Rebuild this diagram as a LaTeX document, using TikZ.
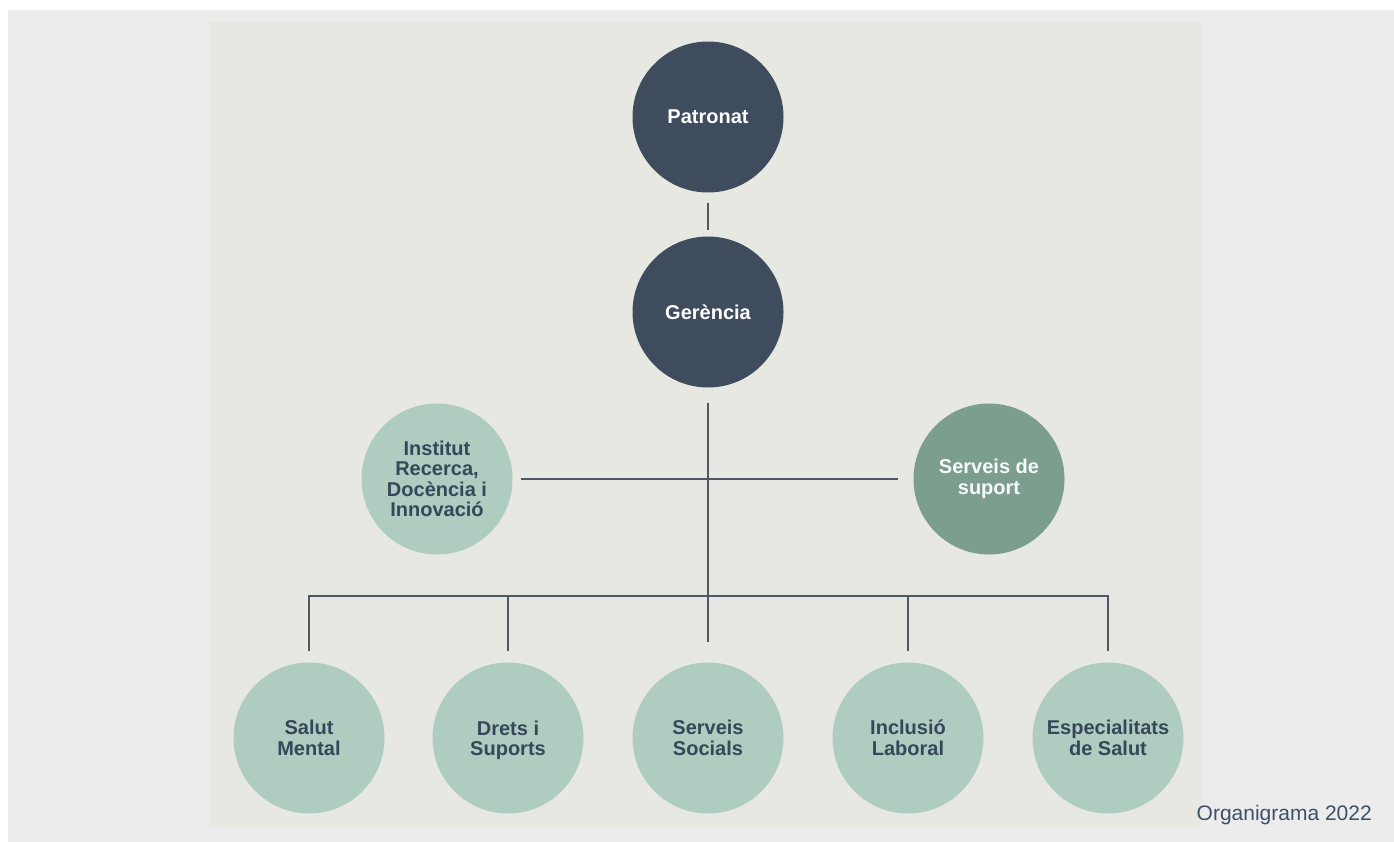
\documentclass[tikz,border=0pt]{standalone}
\usepackage{fontspec}
\setmainfont{Liberation Sans}
\definecolor{outerbg}{HTML}{ECECEC}
\definecolor{panelbg}{HTML}{E8E8E2}
\definecolor{darkcirc}{HTML}{3E4C5E}
\definecolor{lightcirc}{HTML}{AFCCC0}
\definecolor{midcirc}{HTML}{7C9E8F}
\definecolor{darktext}{HTML}{35485A}
\definecolor{linecol}{HTML}{4D5766}
\definecolor{captioncol}{HTML}{3D5068}
\tikzset{
  orgcirc/.style={circle, minimum size=151pt, inner sep=0pt, align=center,
    font=\bfseries\fontsize{20}{20.5}\selectfont},
  topcirc/.style={orgcirc, fill=darkcirc, text=white},
  unitcirc/.style={orgcirc, fill=lightcirc, text=darktext},
  supcirc/.style={orgcirc, fill=midcirc, text=white!95!midcirc},
  conn/.style={draw=linecol, line width=2.2pt},
}
\begin{document}
\begin{tikzpicture}[x=1pt,y=-1pt]
\useasboundingbox (0,0) rectangle (1394,842);
\fill[white] (0,0) rectangle (1394,842);
\fill[outerbg] (8,10) rectangle (1394,842);
\fill[panelbg] (210,22) rectangle (1202,827);

\node[topcirc] (pat) at (708,117) {Patronat};
\node[topcirc] (ger) at (708,312) {Gerència};
\node[unitcirc] (inst) at (437,479) {Institut\\Recerca,\\Docència i\\Innovació};
\node[supcirc] (sup) at (989,479) {Serveis de\\suport};

\node[unitcirc] (sal) at (309,738) {Salut\\Mental};
\node[unitcirc] (dre) at (508,738) {Drets i\\\smash{Suports}};
\node[unitcirc] (soc) at (708,738) {Serveis\\Socials};
\node[unitcirc] (inc) at (908,738) {Inclusió\\Laboral};
\node[unitcirc] (esp) at (1108,738) {Especialitats\\de Salut};

\coordinate (bus) at (708,596);

\draw[conn, shorten <=10pt, shorten >=6pt] (pat.south) -- (ger.north);
\draw[conn, shorten <=15pt, shorten >=20pt] (ger.south) -- (soc.north);
\draw[conn, shorten <=8pt, shorten >=15pt] (inst.east) -- (sup.west);
\draw[conn] ([yshift=11pt]sal.north) -- (sal.north |- bus) -- (esp.north |- bus) -- ([yshift=11pt]esp.north);
\draw[conn] (dre.north |- bus) -- ([yshift=11pt]dre.north);
\draw[conn] (inc.north |- bus) -- ([yshift=11pt]inc.north);

\node[anchor=east, text=captioncol, font=\fontsize{21}{24}\selectfont, inner sep=0pt] (cap) at (1372,815) {Organigrama 2022};
\end{tikzpicture}
\end{document}
